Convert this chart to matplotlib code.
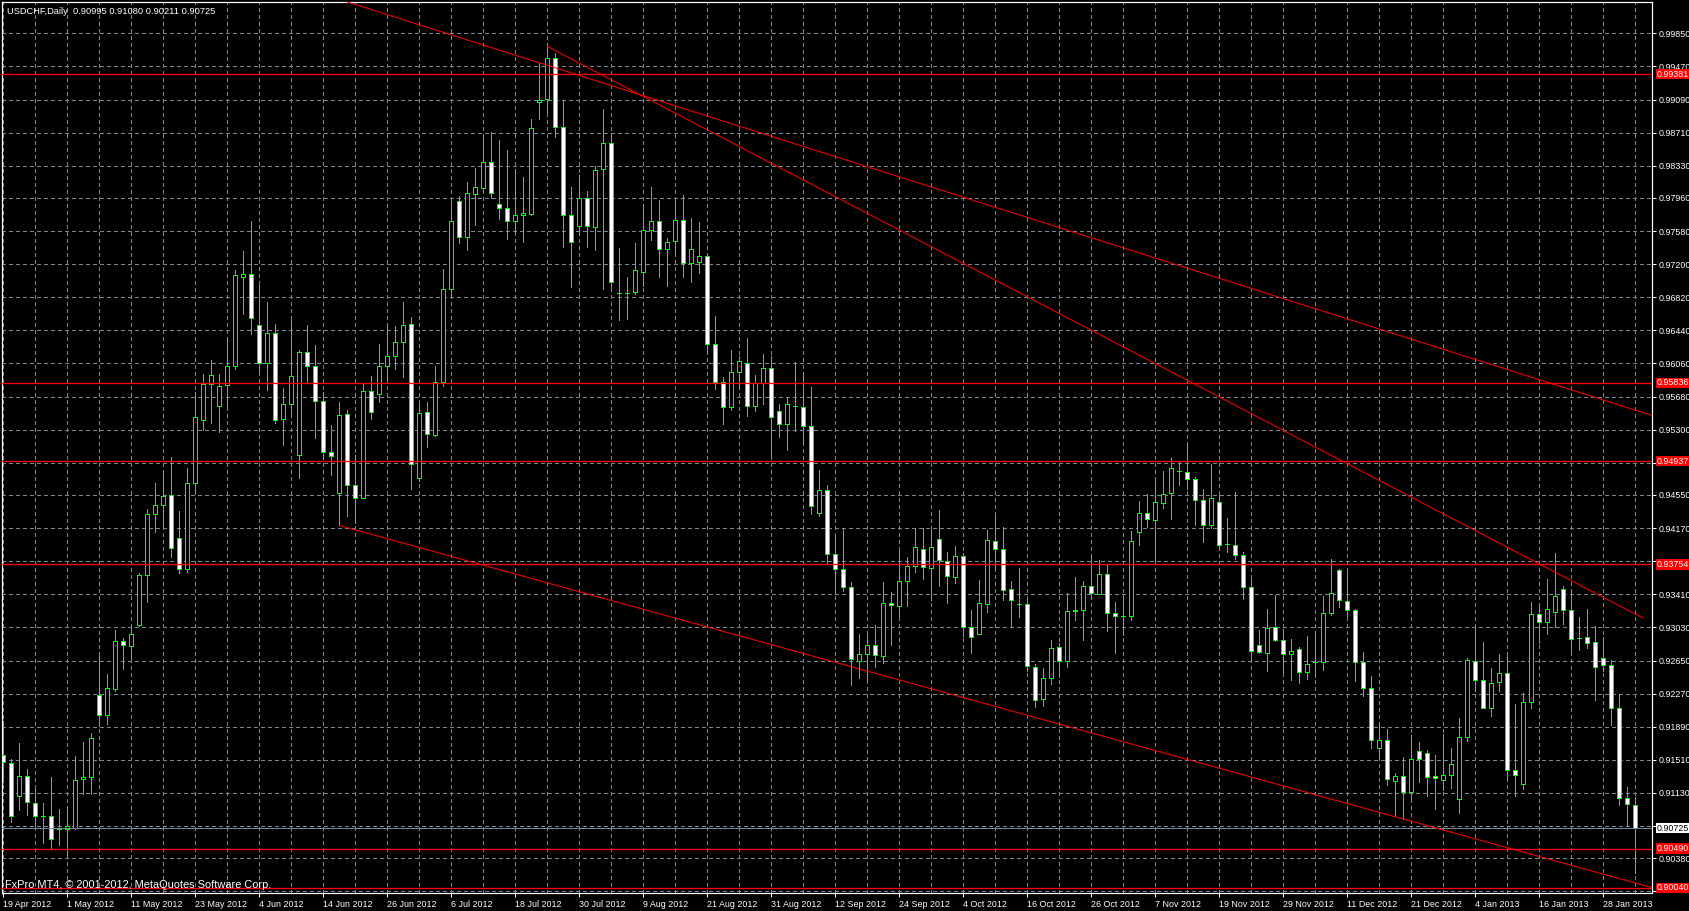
import matplotlib
matplotlib.use("Agg")
import matplotlib.pyplot as plt
import numpy as np

# USDCHF daily bars, 19 Apr 2012 .. 1 Feb 2013 (bar 0 .. 204)
opens = [0.9156, 0.9147, 0.9110, 0.9132, 0.9101, 0.9087, 0.9087, 0.9072, 0.9072, 0.9073,
         0.9129, 0.9131, 0.9225, 0.9202, 0.9232, 0.9287, 0.9282, 0.9306, 0.9363, 0.9433,
         0.9443, 0.9455, 0.9406, 0.9370, 0.9469, 0.9541, 0.9582, 0.9557, 0.9581, 0.9603,
         0.9705, 0.9709, 0.9650, 0.9606, 0.9641, 0.9542, 0.9559, 0.9501, 0.9619, 0.9603,
         0.9563, 0.9504, 0.9457, 0.9548, 0.9466, 0.9451, 0.9574, 0.9571, 0.9603, 0.9614,
         0.9631, 0.9651, 0.9474, 0.9550, 0.9524, 0.9585, 0.9691, 0.9793, 0.9751, 0.9801,
         0.9808, 0.9837, 0.9789, 0.9784, 0.9769, 0.9776, 0.9778, 0.9906, 0.9910, 0.9957,
         0.9878, 0.9776, 0.9764, 0.9796, 0.9763, 0.9829, 0.9859, 0.9687, 0.9687, 0.9688,
         0.9711, 0.9759, 0.9770, 0.9737, 0.9747, 0.9771, 0.9721, 0.9723, 0.9729, 0.9628,
         0.9585, 0.9556, 0.9596, 0.9607, 0.9557, 0.9583, 0.9601, 0.9551, 0.9536, 0.9557,
         0.9556, 0.9534, 0.9434, 0.9461, 0.9387, 0.9370, 0.9349, 0.9264, 0.9273, 0.9283,
         0.9270, 0.9331, 0.9327, 0.9356, 0.9374, 0.9393, 0.9371, 0.9405, 0.9379, 0.9361,
         0.9385, 0.9304, 0.9295, 0.9330, 0.9402, 0.9393, 0.9347, 0.9330, 0.9330, 0.9258,
         0.9221, 0.9245, 0.9281, 0.9265, 0.9322, 0.9323, 0.9350, 0.9341, 0.9364, 0.9320,
         0.9316, 0.9316, 0.9413, 0.9434, 0.9426, 0.9446, 0.9457, 0.9482, 0.9481, 0.9473,
         0.9449, 0.9420, 0.9447, 0.9399, 0.9398, 0.9386, 0.9349, 0.9283, 0.9274, 0.9303,
         0.9289, 0.9273, 0.9278, 0.9252, 0.9263, 0.9263, 0.9320, 0.9369, 0.9333, 0.9323,
         0.9263, 0.9234, 0.9165, 0.9174, 0.9127, 0.9132, 0.9114, 0.9161, 0.9159, 0.9132,
         0.9128, 0.9133, 0.9106, 0.9177, 0.9264, 0.9243, 0.9211, 0.9240, 0.9251, 0.9139,
         0.9123, 0.9217, 0.9318, 0.9309, 0.9321, 0.9347, 0.9323, 0.9291, 0.9292, 0.9286,
         0.9268, 0.9260, 0.9211, 0.9107, 0.90995]
highs = [0.9195, 0.9152, 0.9170, 0.9140, 0.9119, 0.9101, 0.9131, 0.9095, 0.9098, 0.9155,
         0.9172, 0.9182, 0.9270, 0.9250, 0.9300, 0.9291, 0.9305, 0.9365, 0.9439, 0.9469,
         0.9482, 0.9499, 0.9437, 0.9486, 0.9573, 0.9594, 0.9610, 0.9594, 0.9636, 0.9713,
         0.9735, 0.9770, 0.9696, 0.9676, 0.9651, 0.9578, 0.9656, 0.9621, 0.9650, 0.9627,
         0.9573, 0.9535, 0.9562, 0.9553, 0.9501, 0.9582, 0.9592, 0.9628, 0.9651, 0.9649,
         0.9677, 0.9659, 0.9559, 0.9562, 0.9603, 0.9714, 0.9793, 0.9798, 0.9814, 0.9830,
         0.9869, 0.9872, 0.9863, 0.9851, 0.9829, 0.9820, 0.9887, 0.9951, 0.9970, 0.9962,
         0.9909, 0.9809, 0.9822, 0.9804, 0.9833, 0.9898, 0.9871, 0.9739, 0.9705, 0.9744,
         0.9789, 0.9809, 0.9794, 0.9750, 0.9794, 0.9799, 0.9773, 0.9768, 0.9732, 0.9660,
         0.9590, 0.9621, 0.9615, 0.9635, 0.9593, 0.9617, 0.9615, 0.9559, 0.9566, 0.9608,
         0.9596, 0.9579, 0.9484, 0.9467, 0.9408, 0.9417, 0.9355, 0.9296, 0.9297, 0.9306,
         0.9355, 0.9344, 0.9393, 0.9384, 0.9417, 0.9417, 0.9415, 0.9438, 0.9389, 0.9397,
         0.9388, 0.9323, 0.9357, 0.9415, 0.9431, 0.9418, 0.9356, 0.9371, 0.9337, 0.9261,
         0.9256, 0.9289, 0.9285, 0.9342, 0.9361, 0.9356, 0.9387, 0.9380, 0.9375, 0.9332,
         0.9341, 0.9414, 0.9448, 0.9456, 0.9471, 0.9482, 0.9498, 0.9493, 0.9513, 0.9476,
         0.9462, 0.9491, 0.9455, 0.9429, 0.9458, 0.9389, 0.9359, 0.9300, 0.9324, 0.9340,
         0.9301, 0.9290, 0.9281, 0.9293, 0.9299, 0.9339, 0.9382, 0.9370, 0.9369, 0.9324,
         0.9275, 0.9247, 0.9194, 0.9186, 0.9136, 0.9154, 0.9180, 0.9171, 0.9162, 0.9157,
         0.9181, 0.9165, 0.9199, 0.9268, 0.9303, 0.9286, 0.9256, 0.9272, 0.9270, 0.9215,
         0.9228, 0.9332, 0.9330, 0.9359, 0.9388, 0.9350, 0.9346, 0.9315, 0.9324, 0.9305,
         0.9292, 0.9266, 0.9227, 0.9120, 0.91080]
lows = [0.9125, 0.9080, 0.9093, 0.9088, 0.9075, 0.9056, 0.9050, 0.9053, 0.9039, 0.9071,
        0.9112, 0.9112, 0.9190, 0.9192, 0.9230, 0.9255, 0.9267, 0.9305, 0.9332, 0.9412,
        0.9418, 0.9384, 0.9365, 0.9367, 0.9459, 0.9530, 0.9538, 0.9527, 0.9556, 0.9600,
        0.9663, 0.9640, 0.9596, 0.9576, 0.9538, 0.9512, 0.9548, 0.9475, 0.9584, 0.9520,
        0.9496, 0.9478, 0.9420, 0.9431, 0.9423, 0.9451, 0.9542, 0.9562, 0.9584, 0.9600,
        0.9590, 0.9462, 0.9471, 0.9510, 0.9523, 0.9580, 0.9682, 0.9744, 0.9736, 0.9765,
        0.9802, 0.9796, 0.9772, 0.9749, 0.9756, 0.9745, 0.9776, 0.9887, 0.9893, 0.9866,
        0.9740, 0.9694, 0.9754, 0.9740, 0.9736, 0.9691, 0.9694, 0.9656, 0.9657, 0.9686,
        0.9695, 0.9748, 0.9705, 0.9695, 0.9730, 0.9705, 0.9700, 0.9710, 0.9618, 0.9577,
        0.9537, 0.9553, 0.9577, 0.9546, 0.9551, 0.9559, 0.9500, 0.9522, 0.9507, 0.9529,
        0.9515, 0.9433, 0.9431, 0.9377, 0.9341, 0.9345, 0.9237, 0.9245, 0.9243, 0.9258,
        0.9262, 0.9283, 0.9316, 0.9327, 0.9367, 0.9359, 0.9334, 0.9351, 0.9331, 0.9354,
        0.9293, 0.9274, 0.9295, 0.9321, 0.9371, 0.9334, 0.9304, 0.9315, 0.9253, 0.9212,
        0.9213, 0.9238, 0.9246, 0.9257, 0.9312, 0.9288, 0.9339, 0.9341, 0.9299, 0.9274,
        0.9294, 0.9311, 0.9398, 0.9418, 0.9379, 0.9440, 0.9428, 0.9467, 0.9462, 0.9420,
        0.9401, 0.9417, 0.9392, 0.9390, 0.9381, 0.9336, 0.9264, 0.9274, 0.9253, 0.9287,
        0.9251, 0.9243, 0.9239, 0.9244, 0.9246, 0.9254, 0.9317, 0.9326, 0.9315, 0.9241,
        0.9224, 0.9165, 0.9152, 0.9122, 0.9086, 0.9083, 0.9106, 0.9125, 0.9109, 0.9095,
        0.9116, 0.9119, 0.9090, 0.9173, 0.9230, 0.9210, 0.9201, 0.9230, 0.9130, 0.9109,
        0.9118, 0.9211, 0.9285, 0.9296, 0.9304, 0.9307, 0.9274, 0.9277, 0.9279, 0.9220,
        0.9253, 0.9191, 0.9099, 0.9075, 0.90211]
closes = [0.9148, 0.9086, 0.9132, 0.9102, 0.9087, 0.9087, 0.9060, 0.9073, 0.9075, 0.9128,
          0.9131, 0.9176, 0.9203, 0.9233, 0.9287, 0.9283, 0.9295, 0.9363, 0.9433, 0.9443,
          0.9454, 0.9394, 0.9370, 0.9469, 0.9544, 0.9582, 0.9593, 0.9580, 0.9603, 0.9708,
          0.9709, 0.9658, 0.9606, 0.9641, 0.9541, 0.9560, 0.9592, 0.9619, 0.9603, 0.9563,
          0.9504, 0.9500, 0.9547, 0.9466, 0.9451, 0.9574, 0.9550, 0.9603, 0.9615, 0.9631,
          0.9650, 0.9491, 0.9549, 0.9525, 0.9585, 0.9691, 0.9770, 0.9751, 0.9802, 0.9809,
          0.9837, 0.9802, 0.9784, 0.9769, 0.9776, 0.9779, 0.9876, 0.9909, 0.9957, 0.9877,
          0.9776, 0.9746, 0.9796, 0.9764, 0.9828, 0.9859, 0.9699, 0.9687, 0.9687, 0.9713,
          0.9759, 0.9770, 0.9737, 0.9746, 0.9771, 0.9721, 0.9737, 0.9729, 0.9628, 0.9585,
          0.9556, 0.9596, 0.9609, 0.9557, 0.9583, 0.9601, 0.9545, 0.9536, 0.9559, 0.9557,
          0.9534, 0.9442, 0.9461, 0.9387, 0.9370, 0.9349, 0.9267, 0.9273, 0.9283, 0.9271,
          0.9331, 0.9329, 0.9356, 0.9374, 0.9395, 0.9372, 0.9395, 0.9380, 0.9362, 0.9385,
          0.9304, 0.9292, 0.9331, 0.9403, 0.9393, 0.9346, 0.9335, 0.9330, 0.9259, 0.9220,
          0.9245, 0.9279, 0.9265, 0.9322, 0.9323, 0.9350, 0.9342, 0.9364, 0.9320, 0.9316,
          0.9316, 0.9402, 0.9434, 0.9427, 0.9447, 0.9456, 0.9486, 0.9482, 0.9473, 0.9449,
          0.9420, 0.9451, 0.9398, 0.9399, 0.9386, 0.9349, 0.9276, 0.9275, 0.9302, 0.9289,
          0.9273, 0.9276, 0.9252, 0.9261, 0.9263, 0.9320, 0.9343, 0.9334, 0.9323, 0.9263,
          0.9234, 0.9174, 0.9174, 0.9129, 0.9132, 0.9114, 0.9152, 0.9152, 0.9131, 0.9130,
          0.9133, 0.9146, 0.9177, 0.9266, 0.9243, 0.9211, 0.9239, 0.9251, 0.9139, 0.9133,
          0.9217, 0.9318, 0.9309, 0.9324, 0.9339, 0.9323, 0.9290, 0.9291, 0.9285, 0.9258,
          0.9260, 0.9211, 0.9107, 0.9100, 0.90725]

date_labels = ["19 Apr 2012", "1 May 2012", "11 May 2012", "23 May 2012", "4 Jun 2012",
               "14 Jun 2012", "26 Jun 2012", "6 Jul 2012", "18 Jul 2012", "30 Jul 2012",
               "9 Aug 2012", "21 Aug 2012", "31 Aug 2012", "12 Sep 2012", "24 Sep 2012",
               "4 Oct 2012", "16 Oct 2012", "26 Oct 2012", "7 Nov 2012", "19 Nov 2012",
               "29 Nov 2012", "11 Dec 2012", "21 Dec 2012", "4 Jan 2013", "16 Jan 2013",
               "28 Jan 2013"]
price_grid = [0.99850, 0.99470, 0.99090, 0.98710, 0.98330, 0.97960, 0.97580, 0.97200,
              0.96820, 0.96440, 0.96060, 0.95680, 0.95300, 0.94920, 0.94550, 0.94170,
              0.93790, 0.93410, 0.93030, 0.92650, 0.92270, 0.91890, 0.91510, 0.91130,
              0.90750, 0.90380, 0.90000]
# grid labels that sit behind the price boxes on the right
hidden_labels = [0.94920, 0.93790, 0.90750, 0.90000]
red_levels = [0.99381, 0.95836, 0.94937, 0.93754, 0.90490, 0.90040]
last_price = 0.90725
# trendlines as (bar, price) end points
trend_lines = [[(43.0, 1.0021), (206.2, 0.9546)],
               [(68.0, 0.9970), (204.9, 0.9314)],
               [(42.0, 0.9420), (206.2, 0.9004)]]
title = "USDCHF,Daily  0.90995 0.91080 0.90211 0.90725"
footer = "FxPro MT4, \u00a9 2001-2012, MetaQuotes Software Corp."

W, H = 1690, 911
FAM = "Liberation Sans"
GREEN = "#00ff00"
GRID = "#778899"
PX = 0.72  # one pixel in points

fig = plt.figure(figsize=(W / 100, H / 100), dpi=100, facecolor="black")
ax = fig.add_axes([2.5 / W, 18 / H, 1650 / W, 891.3 / H], facecolor="black")
ax.set_xlim(-0.1, 206.15)
ax.set_ylim(0.89981, 1.00213)

# grid
for p in price_grid:
    ax.axhline(p, color=GRID, lw=PX, ls=(0, (4, 3)), zorder=1, antialiased=False)
for i in range(0, len(opens), 4):
    ax.axvline(i, color=GRID, lw=PX, ls=(0, (4, 3)), zorder=1, antialiased=False)

# candles: bull = black body, bear = white body, green outline
x = np.arange(len(opens))
o = np.array(opens)
c = np.array(closes)
ax.vlines(x, lows, highs, color=GREEN, lw=PX, zorder=3, antialiased=False)
ax.bar(x, np.abs(c - o), bottom=np.minimum(o, c), width=0.5,
       color=np.where(c >= o, "black", "white"), edgecolor=GREEN,
       linewidth=PX, zorder=4, antialiased=False)

# levels and trendlines
ax.axhline(last_price, color=GRID, lw=PX, zorder=5, antialiased=False)
for p in red_levels:
    ax.axhline(p, color="red", lw=PX * 1.3, zorder=5)
for (x0, y0), (x1, y1) in trend_lines:
    ax.plot([x0, x1], [y0, y1], color="red", lw=PX, zorder=5)

# axes look
for s in ax.spines.values():
    s.set_color("white")
    s.set_linewidth(PX * 1.2)
ax.yaxis.tick_right()
ax.set_yticks(price_grid)
ax.set_yticklabels(["" if p in hidden_labels else f"{p:.5f}" for p in price_grid],
                   fontsize=6.4, family=FAM, color="white")
ax.tick_params(axis="y", colors="white", length=3, width=PX, pad=1.2)
ax.set_xticks(np.arange(0, 8 * len(date_labels), 8))
ax.set_xticklabels(date_labels, fontsize=6.4, family=FAM, color="white", ha="left")
ax.tick_params(axis="x", colors="white", length=3, width=PX, pad=2)

ytr = ax.get_yaxis_transform()
for p in red_levels:
    ax.text(1.0025, p, f"{p:.5f}", transform=ytr, fontsize=6.4, family=FAM,
            color="white", va="center", ha="left", zorder=10, clip_on=False,
            bbox=dict(boxstyle="square,pad=0.08", fc="red", ec="none"))
ax.text(1.0025, last_price, f"{last_price:.5f}", transform=ytr, fontsize=6.4, family=FAM,
        color="black", va="center", ha="left", zorder=10, clip_on=False,
        bbox=dict(boxstyle="square,pad=0.08", fc="white", ec="none"))

fig.text(7 / W, 1 - 11 / H, title, fontsize=6.7, family=FAM, color="white", va="center")
fig.text(5 / W, 1 - 885 / H, footer, fontsize=7.9, family=FAM, color="white",
         va="center", zorder=10)

fig.savefig("out.png", dpi=100, facecolor="black")
